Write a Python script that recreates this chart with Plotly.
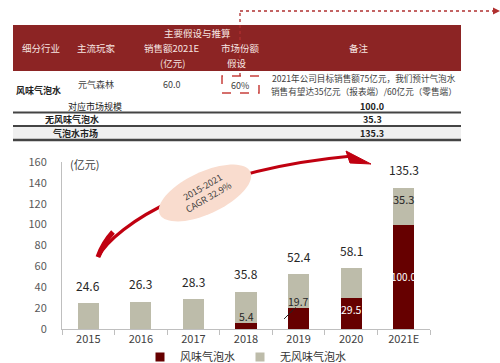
import numpy as np
import plotly.graph_objects as go

W, H = 500, 363

# ---------------- data ----------------
years = ["2015", "2016", "2017", "2018", "2019", "2020", "2021E"]
flavored = [0, 0, 0, 5.4, 19.7, 29.5, 100.0]          # 风味气泡水
unflavored = [24.6, 26.3, 28.3, 30.4, 32.7, 28.6, 35.3]  # 无风味气泡水
totals = [24.6, 26.3, 28.3, 35.8, 52.4, 58.1, 135.3]
y_ticks = [0, 20, 40, 60, 80, 100, 120, 140, 160]

header_cols = ["细分行业", "主流玩家", "销售额2021E", "市场份额", "备注"]
row_segment = "风味气泡水"
row_player = "元气森林"
row_sales = "60.0"
row_share = "60%"
row_note = ["2021年公司目标销售额75亿元，我们预计气泡水", "销售有望达35亿元（报表端）/60亿元（零售端）"]
summary_labels = ["对应市场规模", "无风味气泡水", "气泡水市场"]
summary_values = ["100.0", "35.3", "135.3"]

RED = "#660000"
GRAY = "#BDBCAA"
HEAD = "#8C2424"
FONT = "Noto Sans CJK SC"


def px(x):
    return x / W


def py(y):
    return 1 - y / H


fig = go.Figure()
fig.add_trace(go.Bar(x=years, y=flavored, name="风味气泡水", marker_color=RED, marker_line_width=0,
                     showlegend=False))
fig.add_trace(go.Bar(x=years, y=unflavored, name="无风味气泡水", marker_color=GRAY, marker_line_width=0,
                     showlegend=False))
# legend entries with small square swatches
for nm, col in [("风味气泡水", RED), ("无风味气泡水", GRAY)]:
    fig.add_trace(go.Scatter(x=[None], y=[None], mode="markers", name=nm,
                             marker=dict(symbol="square", size=9, color=col)))

shapes = []
ann = []

# ---------------- table ----------------
shapes.append(dict(type="rect", xref="paper", yref="paper", x0=px(13), x1=px(461), y0=py(71), y1=py(25),
                   fillcolor=HEAD, line_width=0, layer="below"))
shapes.append(dict(type="rect", xref="paper", yref="paper", x0=px(13), x1=px(461), y0=py(139), y1=py(127),
                   fillcolor="#EFEFEF", line_width=0, layer="below"))
for yy, lw in [(112.5, 2), (126, 2), (140, 2.5)]:
    shapes.append(dict(type="line", xref="paper", yref="paper", x0=px(13), x1=px(461), y0=py(yy), y1=py(yy),
                       line=dict(color="#444444", width=lw)))

hc = "#F6E4E2"
HS = 9.5
ann.append(dict(x=px(197), y=py(33), text="主要假设与推算", font=dict(size=HS, color=hc)))
for txt, xx in zip(header_cols, [41, 96, 172, 240, 359]):
    ann.append(dict(x=px(xx), y=py(48), text=txt, font=dict(size=HS, color=hc)))
ann.append(dict(x=px(172), y=py(63), text="(亿元)", font=dict(size=HS, color=hc)))
ann.append(dict(x=px(237), y=py(63), text="假设", font=dict(size=HS, color=hc)))

tc = "#404040"
RS = 9
ann.append(dict(x=px(38), y=py(91), text="<b>" + row_segment + "</b>", font=dict(size=RS, color="#222")))
ann.append(dict(x=px(96), y=py(84), text=row_player, font=dict(size=RS, color=tc)))
ann.append(dict(x=px(172), y=py(84), text=row_sales, font=dict(size=RS, color=tc)))
ann.append(dict(x=px(240), y=py(85), text=row_share, font=dict(size=RS, color=tc)))
ann.append(dict(x=px(364), y=py(78), text=row_note[0], font=dict(size=8.6, color=tc)))
ann.append(dict(x=px(364), y=py(91), text=row_note[1], font=dict(size=8.6, color=tc)))
for lab, val, xx, yy in zip(summary_labels, summary_values, [95, 72, 75], [106, 119, 133]):
    ann.append(dict(x=px(xx), y=py(yy), text="<b>" + lab + "</b>" if lab != "对应市场规模" else lab,
                    font=dict(size=RS, color="#222"), borderpad=0))
    ann.append(dict(x=px(372), y=py(yy), text="<b>" + val + "</b>", font=dict(size=RS, color="#222"),
                    borderpad=0))

# dashed box + dotted pointer
dcol = "#B03030"
shapes.append(dict(type="rect", xref="paper", yref="paper", x0=px(222), x1=px(259), y0=py(93), y1=py(76),
                   line=dict(color="#C8403C", width=1.5, dash="dash")))
shapes.append(dict(type="line", xref="paper", yref="paper", x0=px(240), x1=px(240), y0=py(76), y1=py(11),
                   line=dict(color=dcol, width=1.3, dash="dot")))
shapes.append(dict(type="line", xref="paper", yref="paper", x0=px(240), x1=px(494), y0=py(11), y1=py(11),
                   line=dict(color=dcol, width=1.3, dash="dot")))
shapes.append(dict(type="path", xref="paper", yref="paper",
                   path=f"M {px(493)} {py(7.5)} L {px(500)} {py(11)} L {px(493)} {py(14.5)} Z",
                   fillcolor=dcol, line_width=0))

# ---------------- CAGR arrow + ellipse ----------------
acol = "#C00010"
P = [(98, 257), (115, 225), (200, 170), (352, 156)]
shapes.append(dict(type="path", xref="paper", yref="paper",
                   path="M {} {} C {} {}, {} {}, {} {}".format(px(P[0][0]), py(P[0][1]), px(P[1][0]), py(P[1][1]),
                                                               px(P[2][0]), py(P[2][1]), px(P[3][0]), py(P[3][1])),
                   line=dict(color=acol, width=3.2)))
shapes.append(dict(type="path", xref="paper", yref="paper",
                   path=f"M {px(98)} {py(257)} Q {px(103)} {py(243)} {px(113)} {py(232)}",
                   line=dict(color=acol, width=5)))
shapes.append(dict(type="path", xref="paper", yref="paper",
                   path=f"M {px(346)} {py(151)} L {px(371)} {py(164)} L {px(350)} {py(163)} Z",
                   fillcolor=acol, line=dict(color=acol, width=1)))
cx, cy, a, b, phi = 205, 193, 50, 21, np.deg2rad(25)
t = np.linspace(0, 2 * np.pi, 72)
ex = cx + a * np.cos(t) * np.cos(phi) - b * np.sin(t) * np.sin(phi)
ey = cy - (a * np.cos(t) * np.sin(phi) + b * np.sin(t) * np.cos(phi))
path = "M " + " L ".join(f"{px(x):.5f} {py(y):.5f}" for x, y in zip(ex, ey)) + " Z"
shapes.append(dict(type="path", xref="paper", yref="paper", path=path, fillcolor="#F9DCCE", line_width=0))
ann.append(dict(x=px(205), y=py(192), text="2015-2021<br>CAGR 32.9%", textangle=-30,
                font=dict(size=9, color="#404040")))

# ---------------- chart labels ----------------
# (category axis: annotations addressed by category index)
ann.append(dict(x=px(68), y=py(164), xanchor="left", text="(亿元)", font=dict(size=11, color="#404040")))
for i, tot in enumerate(totals):
    ann.append(dict(x=i, y=tot, xref="x", yref="y", yshift=18, text=f"{tot:.1f}",
                    font=dict(size=12, color="#262626")))
for i, fv in enumerate(flavored):
    if fv <= 0:
        continue
    if fv < 25:
        ann.append(dict(x=i, y=fv, xref="x", yref="y", yshift=7, text=f"{fv:.1f}",
                        font=dict(size=10.5, color="#262626")))
    elif fv < 50:
        ann.append(dict(x=i, y=fv, xref="x", yref="y", yshift=-11, text=f"{fv:.1f}",
                        font=dict(size=10.5, color="white")))
    else:
        ann.append(dict(x=i, y=fv / 2, xref="x", yref="y", text=f"{fv:.1f}",
                        font=dict(size=10, color="white")))
last = len(years) - 1
ann.append(dict(x=last, y=totals[last], xref="x", yref="y", yshift=-11, text=f"{unflavored[last]:.1f}",
                font=dict(size=11, color="#262626")))
# leader line for 2019 label
ann.append(dict(x=4, y=flavored[4], xref="x", yref="y", xshift=-3, yshift=1, text="",
                showarrow=True, arrowhead=0, arrowwidth=1, arrowcolor="#222", ax=-13, ay=13))

for a_ in ann:
    a_.setdefault("xref", "paper")
    a_.setdefault("yref", "paper")
    a_.setdefault("showarrow", False)
    a_.setdefault("xanchor", "center")
    a_.setdefault("yanchor", "middle")

fig.update_layout(
    width=W, height=H, margin=dict(l=0, r=0, t=0, b=0, autoexpand=False),
    paper_bgcolor="white", plot_bgcolor="white",
    barmode="stack", bargap=0.6,
    font=dict(family=FONT, color="#404040"),
    shapes=shapes, annotations=ann,
    legend=dict(orientation="h", x=px(140), y=py(357), xanchor="left", yanchor="middle", traceorder="normal",
                font=dict(size=11, color="#333"), itemwidth=30, bgcolor="rgba(0,0,0,0)"),
    xaxis=dict(domain=[px(62), px(430)], type="category", range=[-0.5, 6.5], automargin=False,
               showline=True, linecolor="#BFBFBF", linewidth=1,
               ticks="outside", tickson="boundaries", ticklen=5, tickcolor="#BFBFBF", tickangle=0,
               tickfont=dict(size=11, color="#404040"), showgrid=False),
    yaxis=dict(domain=[py(329), py(162)], range=[0, 160], tickvals=y_ticks, showline=True, automargin=False,
               linecolor="#BFBFBF", linewidth=1, showgrid=False, zeroline=False,
               tickfont=dict(size=11, color="#595959"), ticklabelstandoff=12),
)

fig.write_html("out.html", config={"displayModeBar": False},
               post_script="document.body.style.margin='0';")
